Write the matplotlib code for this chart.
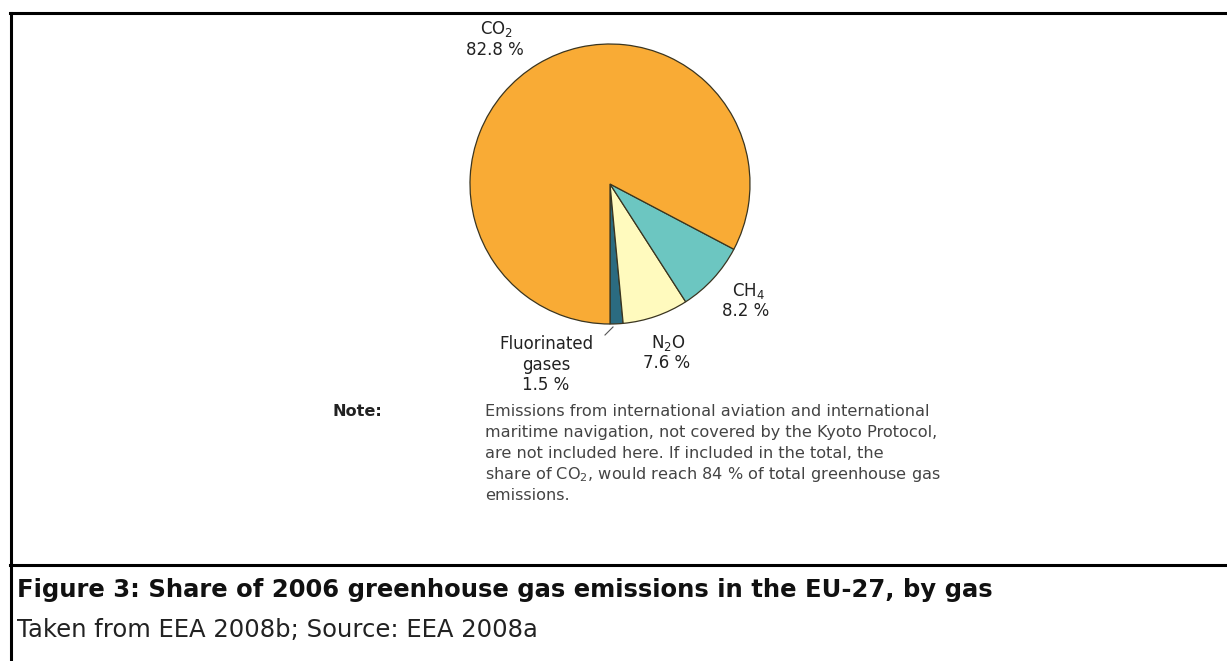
import matplotlib
matplotlib.use("Agg")
import matplotlib.pyplot as plt
from matplotlib.lines import Line2D

# Share of 2006 EU-27 greenhouse gas emissions by gas (%)
gases = ["Fluorinated gases", "N$_2$O", "CH$_4$", "CO$_2$"]
shares = [1.5, 7.6, 8.2, 82.8]
colors = ["#2b6b80", "#fffabe", "#6cc6c1", "#f9ab35"]

note_lines = [
    "Emissions from international aviation and international",
    "maritime navigation, not covered by the Kyoto Protocol,",
    "are not included here. If included in the total, the",
    "share of CO$_2$, would reach 84 % of total greenhouse gas",
    "emissions.",
]
title = "Figure 3: Share of 2006 greenhouse gas emissions in the EU-27, by gas"
source = "Taken from EEA 2008b; Source: EEA 2008a"

W, H = 1227, 661
fig = plt.figure(figsize=(W / 100, H / 100), dpi=100)
fig.patch.set_facecolor("white")
plt.rcParams["font.family"] = ["DejaVu Sans"]


def fx(px):
    return px / W


def fy(py):
    return 1 - py / H


# Pie: centre (610, 184) px, radius 140 px
cx, cy, r = 610, 184, 140
ax = fig.add_axes([fx(cx - r), fy(cy + r), 2 * r / W, 2 * r / H])
wedges, _ = ax.pie(
    shares,
    colors=colors,
    startangle=-90,
    counterclock=True,
    radius=1.0,
    wedgeprops=dict(edgecolor="#3a3520", linewidth=0.9),
)
ax.set_xlim(-1, 1)
ax.set_ylim(-1, 1)
ax.set_aspect("equal")
ax.axis("off")

lab_kw = dict(fontsize=12, color="#222222", ha="center", va="center")

# CO2
fig.text(fx(497), fy(29), "CO$_2$", **lab_kw)
fig.text(fx(495), fy(50), f"{shares[3]:.1f} %", **lab_kw)
# CH4
fig.text(fx(748), fy(291), "CH$_4$", **lab_kw)
fig.text(fx(746), fy(311), f"{shares[2]:.1f} %", **lab_kw)
# N2O
fig.text(fx(668), fy(343), "N$_2$O", **lab_kw)
fig.text(fx(667), fy(363), f"{shares[1]:.1f} %", **lab_kw)
# Fluorinated gases
fig.text(fx(546), fy(344), "Fluorinated", **lab_kw)
fig.text(fx(546), fy(365), "gases", **lab_kw)
fig.text(fx(546), fy(385), f"{shares[0]:.1f} %", **lab_kw)
fig.add_artist(Line2D([fx(605), fx(613)], [fy(335), fy(327)],
                      color="#555555", linewidth=0.8))

# Note block
fig.text(fx(332), fy(412), "Note:", fontsize=11.6, fontweight="bold",
         color="#222222", ha="left", va="center")
for i, line in enumerate(note_lines):
    fig.text(fx(485), fy(412 + 21 * i), line, fontsize=11.6,
             color="#444444", ha="left", va="center")

# Frame lines
fig.add_artist(Line2D([fx(10), 1], [fy(13), fy(13)], color="black", linewidth=2.2))
fig.add_artist(Line2D([fx(11), fx(11)], [fy(13), 0], color="black", linewidth=2.2))
fig.add_artist(Line2D([fx(10), 1], [fy(565), fy(565)], color="black", linewidth=2.2))

# Caption
fig.text(fx(17), fy(597), title, fontsize=17.5, fontweight="bold",
         color="#111111", ha="left", va="baseline")
fig.text(fx(17), fy(637), source, fontsize=17.5, color="#222222",
         ha="left", va="baseline")

fig.savefig("out.png", dpi=100, facecolor="white")
